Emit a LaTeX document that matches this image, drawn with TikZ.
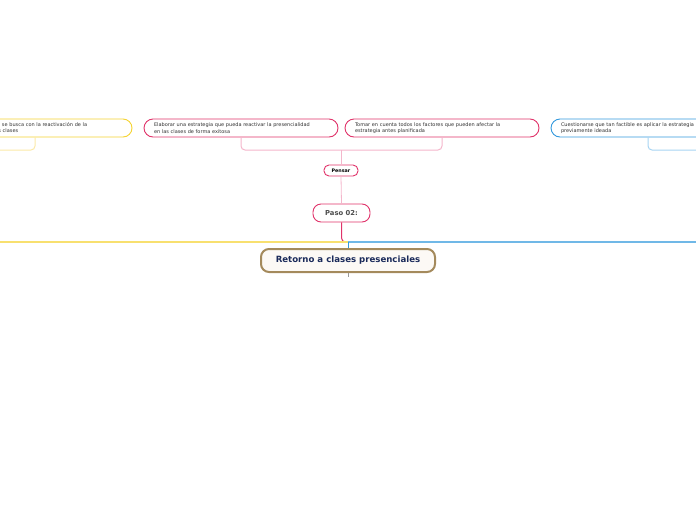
\documentclass[tikz,border=0pt]{standalone}
\usepackage{fontspec}
\setmainfont{DejaVu Sans}
\usepackage{tikz}
\usepackage{xcolor}

\definecolor{crimson}{HTML}{E0336A}
\definecolor{lightpink}{HTML}{F4B6CB}
\definecolor{gold}{HTML}{F5D332}
\definecolor{lightgold}{HTML}{FBE9A8}
\definecolor{skyblue}{HTML}{3399DD}
\definecolor{lightblue}{HTML}{A8D4F2}
\definecolor{brownish}{HTML}{A48A5C}
\definecolor{navy}{HTML}{1A2A5A}

\tikzset{
    idea/.style={draw, line width=0.9pt, rounded corners=9pt, fill=white,
        minimum width=194pt, minimum height=18pt, text width=174pt,
        inner xsep=10pt, inner ysep=2pt, align=left,
        font=\fontsize{5}{6.5}\selectfont, text=black!80},
    bracket/.style={line width=1pt, rounded corners=4pt},
}

\begin{document}
\begin{tikzpicture}[x=1pt,y=-1pt]
    \useasboundingbox (0,0) rectangle (696,520);

    % ideas
    \node[idea, draw=gold] (ideaA) at (35,128) {Definir qué es lo que se busca con la reactivación de la\\ presencialidad de las clases};
    \node[idea, draw=crimson] (ideaB) at (241,128) {Elaborar una estrategia que pueda reactivar la presencialidad\\ en las clases de forma exitosa};
    \node[idea, draw=crimson] (ideaC) at (442,128) {Tomar en cuenta todos los factores que pueden afectar la\\ estrategia antes planificada};
    \node[idea, draw=skyblue] (ideaD) at (648,128) {Cuestionarse que tan factible es aplicar la estrategia\\ previamente ideada};

    % steps
    \node[draw=crimson, line width=0.9pt, rounded corners=5pt, minimum width=34pt, minimum height=11pt, inner sep=1pt,
        font=\bfseries\fontsize{4.8}{6}\selectfont] (pensar) at (341,170.5) {Pensar};
    \node[draw=crimson, line width=0.9pt, rounded corners=8pt, minimum width=57pt, minimum height=18pt, inner sep=1pt,
        text=black!70, font=\bfseries\fontsize{6.8}{8}\selectfont] (paso) at (341.5,213) {Paso 02:};
    \node[draw=brownish, fill=brown!5, line width=2pt, rounded corners=8pt, minimum width=174pt, minimum height=23pt,
        text=navy, font=\bfseries\fontsize{8.6}{10}\selectfont] (main) at (348,260.5) {Retorno a clases presenciales};

    \coordinate (left) at (-20,242);
    \coordinate (right) at (716,242);
    \coordinate (hub) at (348,242);

    % connectors
    \draw[bracket, lightgold] (ideaA.south) |- (-20,150);
    \draw[bracket, lightpink] (ideaB.south) |- (341,150) -| (ideaC.south);
    \draw[bracket, lightblue] (ideaD.south) |- (716,150);
    \draw[line width=0.8pt, lightpink] (341,150) -- (pensar.north);
    \draw[line width=0.8pt, lightpink] (pensar.south) -- (paso.north);
    \draw[line width=1pt, crimson, rounded corners=4pt] (paso.south) |- (hub);
    \draw[line width=1.2pt, gold!70] (hub) -- (left);
    \draw[line width=1.2pt, skyblue!70] (hub) -- (right);
    \draw[line width=0.8pt, skyblue] (hub) -- (main.north);
    \draw[line width=0.6pt, black!40] (main.south) -- ++(0,4);
\end{tikzpicture}
\end{document}
